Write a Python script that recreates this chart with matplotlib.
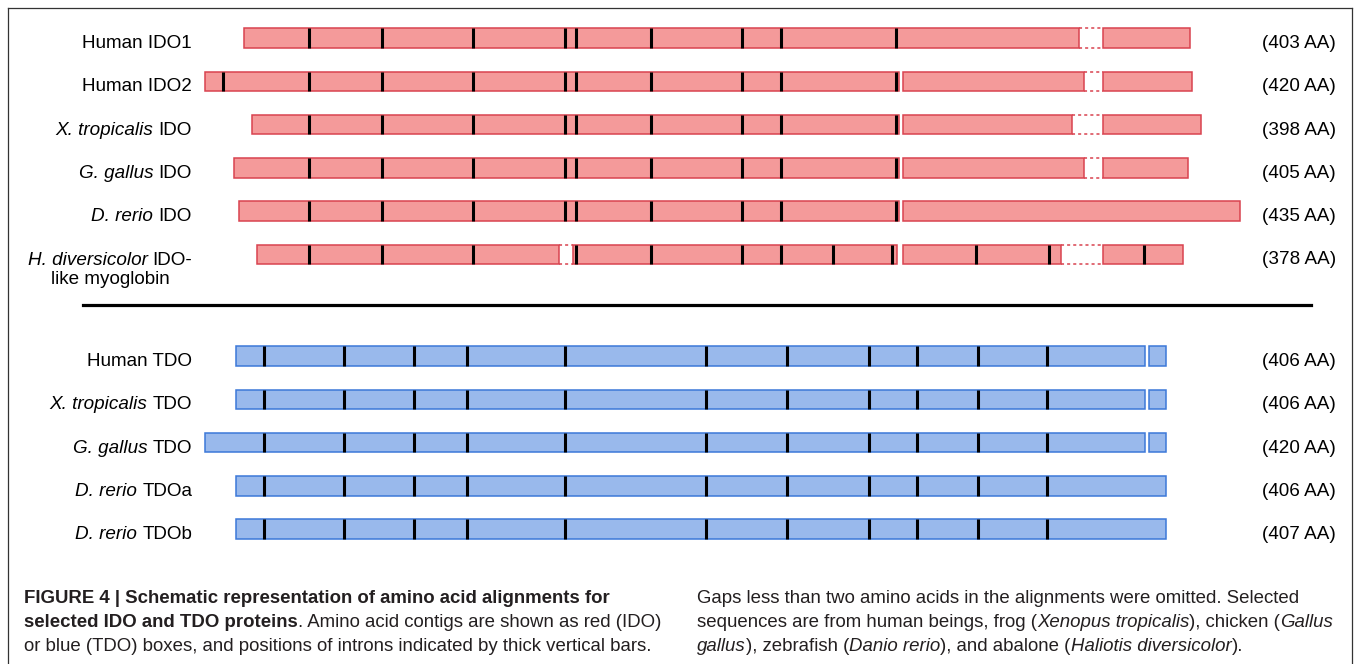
import matplotlib
matplotlib.use("Agg")
import matplotlib.pyplot as plt
from matplotlib.patches import Rectangle
from matplotlib.lines import Line2D
from matplotlib.font_manager import FontProperties

# ---------------- data (alignment columns, amino-acid units) ----------------
ido_labels = [
    [("Human IDO1", "n")],
    [("Human IDO2", "n")],
    [("X. tropicalis", "i"), (" IDO", "n")],
    [("G. gallus", "i"), (" IDO", "n")],
    [("D. rerio", "i"), (" IDO", "n")],
    None,  # H. diversicolor label drawn on two lines
]
hdiv_label_lines = [[("H. diversicolor", "i"), (" IDO-", "n")], [("like myoglobin", "n")]]
ido_lengths = [403, 420, 398, 405, 435, 378]
ido_start = [17.0, 0.0, 20.5, 12.7, 14.8, 22.7]
ido_end = [430.1, 431.0, 435.0, 429.3, 452.0, 427.0]
ido_introns = [
    [45.6, 77.3, 117.0, 157.2, 162.0, 194.8, 234.5, 251.5, 301.8],
    [8.0, 45.6, 77.3, 117.0, 157.2, 162.0, 194.8, 234.5, 251.5, 301.8],
    [45.6, 77.3, 117.0, 157.2, 162.0, 194.8, 234.5, 251.5, 301.8],
    [45.6, 77.3, 117.0, 157.2, 162.0, 194.8, 234.5, 251.5, 301.8],
    [45.6, 77.3, 117.0, 157.2, 162.0, 194.8, 234.5, 251.5, 301.8],
    [45.6, 77.3, 117.0, 162.0, 194.8, 234.5, 251.5, 274.2, 300.0, 336.7, 368.6, 410.0],
]
ido_gaps = [  # dashed (alignment gaps)
    [(381.7, 392.1)],
    [(383.8, 392.1)],
    [(378.6, 392.1)],
    [(383.8, 392.1)],
    [],
    [(154.6, 160.7), (373.8, 392.1)],
]
ido_splits = [  # small plain breaks
    [],
    [(303.0, 304.8)],
    [(303.0, 304.8)],
    [(303.0, 304.8)],
    [(303.0, 304.8)],
    [(302.0, 304.8)],
]

tdo_labels = [
    [("Human TDO", "n")],
    [("X. tropicalis", "i"), (" TDO", "n")],
    [("G. gallus", "i"), (" TDO", "n")],
    [("D. rerio", "i"), (" TDOa", "n")],
    [("D. rerio", "i"), (" TDOb", "n")],
]
tdo_lengths = [406, 406, 420, 406, 407]
tdo_start = [13.5, 13.5, 0.0, 13.5, 13.5]
tdo_end = [419.7, 419.7, 419.7, 419.7, 419.7]
tdo_introns = [
    [25.8, 60.7, 91.3, 114.4, 157.2, 218.8, 254.1, 290.0, 311.0, 337.6, 367.7],
    [25.8, 60.7, 91.3, 114.4, 157.2, 218.8, 254.1, 290.0, 311.0, 337.6, 367.7],
    [25.8, 60.7, 91.3, 114.4, 157.2, 218.8, 254.1, 290.0, 311.0, 337.6, 367.7],
    [25.8, 60.7, 91.3, 114.4, 157.2, 218.8, 254.1, 290.0, 311.0, 337.6, 367.7],
    [25.8, 60.7, 91.3, 114.4, 157.2, 218.8, 254.1, 290.0, 311.0, 337.6, 367.7],
]
tdo_gaps = [[], [], [], [], []]
tdo_splits = [[(410.5, 412.2)], [(410.5, 412.2)], [(410.5, 412.2)], [], []]

caption_left = [
    [("FIGURE 4 | Schematic representation of amino acid alignments for", "b")],
    [("selected IDO and TDO proteins", "b"), (". Amino acid contigs are shown as red (IDO)", "n")],
    [("or blue (TDO) boxes, and positions of introns indicated by thick vertical bars.", "n")],
]
caption_right = [
    [("Gaps less than two amino acids in the alignments were omitted. Selected", "n")],
    [("sequences are from human beings, frog (", "n"), ("Xenopus tropicalis", "i"),
     ("), chicken (", "n"), ("Gallus", "i")],
    [("gallus", "i"), ("), zebrafish (", "n"), ("Danio rerio", "i"),
     ("), and abalone (", "n"), ("Haliotis diversicolor", "i"), (").", "n")],
]

# ---------------- styling ----------------
W, H = 1354, 664
PX_PER_AA = 2.29
X0_PX = 205.0          # pixel of alignment column 0
ROW0_PX = 38.0         # pixel of first row centre
ROW_PX = 43.3          # row pitch in pixels
TDO_OFFSET = (356.0 - ROW0_PX) / ROW_PX
BAR_H = 19.5 / ROW_PX

IDO_FACE, IDO_EDGE = "#f49a9a", "#d9434f"
TDO_FACE, TDO_EDGE = "#99b9ec", "#3c78d8"
FAM = "Liberation Sans"

fig = plt.figure(figsize=(W / 100, H / 100), dpi=100)
fig.patch.set_facecolor("white")
ax = fig.add_axes([0, 0, 1, 1])
ax.set_xlim(-X0_PX / PX_PER_AA, (W - X0_PX) / PX_PER_AA)
ax.set_ylim((H - ROW0_PX) / ROW_PX, -ROW0_PX / ROW_PX)
ax.axis("off")

renderer = fig.canvas.get_renderer()


def fp(style, size):
    return FontProperties(family=FAM,
                          style="italic" if style == "i" else "normal",
                          weight="bold" if style == "b" else "normal",
                          size=size)


def tw(s, prop):
    a = renderer.get_text_width_height_descent("|" + s + "|", prop, ismath=False)[0]
    b = renderer.get_text_width_height_descent("||", prop, ismath=False)[0]
    return a - b


def draw_runs(runs, x, y, size, ha="left", color="black"):
    widths = [tw(s, fp(st, size)) for s, st in runs]
    total = sum(widths)
    if ha == "right":
        cur = x - total
    elif ha == "center":
        cur = x - total / 2
    else:
        cur = x
    for (s, st), w in zip(runs, widths):
        core = s.lstrip(" ")
        lead = len(s) - len(core)
        off = tw(" " * lead, fp(st, size)) if lead else 0
        fig.text((cur + off) / W, 1 - y / H, core, fontproperties=fp(st, size),
                 ha="left", va="baseline", color=color)
        cur += w


def draw_protein(row, start, end, introns, gaps, splits, face, edge):
    y0 = row - BAR_H / 2
    cuts = sorted(gaps + splits)
    segs = []
    a = start
    for g0, g1 in cuts:
        segs.append((a, g0))
        a = g1
    segs.append((a, end))
    for s0, s1 in segs:
        ax.add_patch(Rectangle((s0, y0), s1 - s0, BAR_H, facecolor=face,
                               edgecolor=edge, linewidth=1.1, zorder=2))
    for g0, g1 in gaps:
        for yy in (y0, y0 + BAR_H):
            ax.plot([g0, g1], [yy, yy], color=edge, lw=1.1,
                    linestyle=(0, (2.0, 2.0)), zorder=2)
    ax.vlines(introns, y0, y0 + BAR_H, colors="black", linewidth=2.2,
              capstyle="butt", zorder=3)


# label font size fitted to reference widths
base = 12.0
lab_size = base * 110.0 / tw("Human IDO1", fp("n", base))
cap_size = base * 587.0 / tw(caption_left[0][0][0], fp("b", base))

for i in range(len(ido_lengths)):
    draw_protein(i, ido_start[i], ido_end[i], ido_introns[i], ido_gaps[i],
                 ido_splits[i], IDO_FACE, IDO_EDGE)
    cy = ROW0_PX + ROW_PX * i
    if ido_labels[i] is not None:
        draw_runs(ido_labels[i], 192, cy + 10, lab_size, ha="right")
    else:
        draw_runs(hdiv_label_lines[0], 110, cy + 10.5, lab_size, ha="center")
        draw_runs(hdiv_label_lines[1], 110, cy + 29.5, lab_size, ha="center")
    draw_runs([(f"({ido_lengths[i]} AA)", "n")], 1336, cy + 10, lab_size, ha="right")

for j in range(len(tdo_lengths)):
    r = TDO_OFFSET + j
    draw_protein(r, tdo_start[j], tdo_end[j], tdo_introns[j], tdo_gaps[j],
                 tdo_splits[j], TDO_FACE, TDO_EDGE)
    cy = ROW0_PX + ROW_PX * r
    draw_runs(tdo_labels[j], 192, cy + 10, lab_size, ha="right")
    draw_runs([(f"({tdo_lengths[j]} AA)", "n")], 1336, cy + 10, lab_size, ha="right")

# separator between IDO and TDO groups
fig.add_artist(Line2D([83 / W, 1311 / W], [1 - 305 / H, 1 - 305 / H],
                      transform=fig.transFigure, color="black", lw=2.3))

# frame
fc = "#333333"
fig.add_artist(Line2D([8 / W, 1352 / W], [1 - 8 / H, 1 - 8 / H], transform=fig.transFigure, color=fc, lw=0.9))
fig.add_artist(Line2D([8 / W, 8 / W], [0, 1 - 8 / H], transform=fig.transFigure, color=fc, lw=0.9))
fig.add_artist(Line2D([1352 / W, 1352 / W], [0, 1 - 8 / H], transform=fig.transFigure, color=fc, lw=0.9))

# caption
for k, line in enumerate(caption_left):
    draw_runs(line, 24, 603 + 24 * k, cap_size, color="#231f20")
for k, line in enumerate(caption_right):
    draw_runs(line, 697, 603 + 24 * k, cap_size, color="#231f20")

fig.savefig("out.png", dpi=100, facecolor="white")
